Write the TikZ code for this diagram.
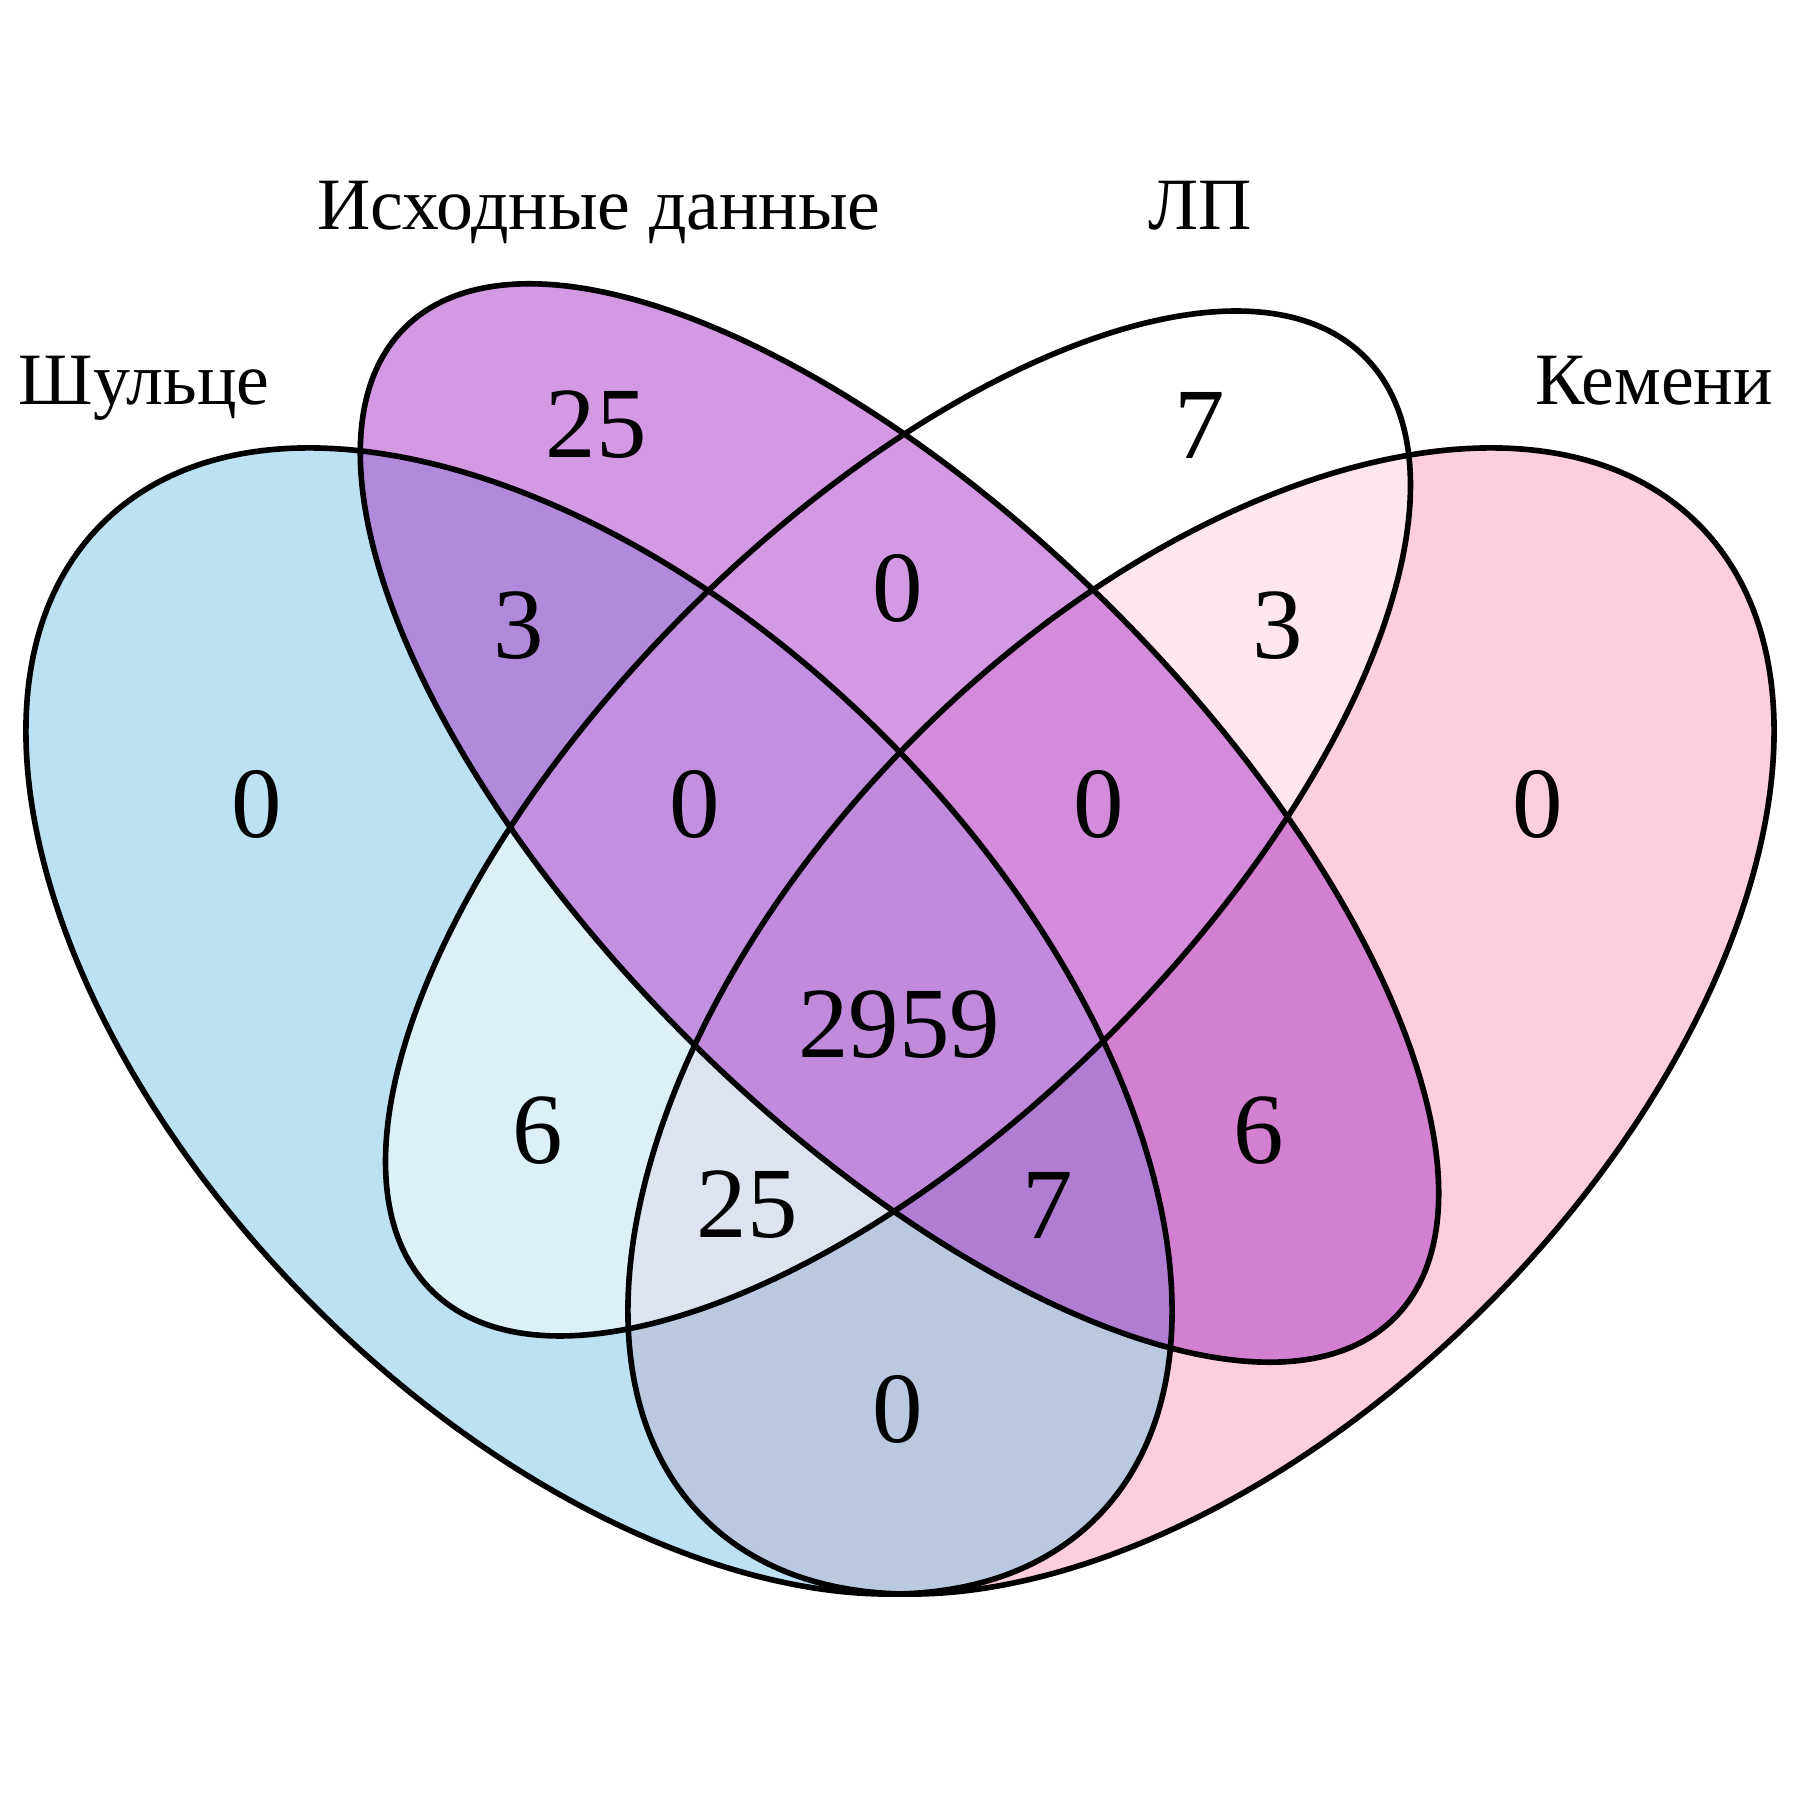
\documentclass[tikz,border=0pt]{standalone}
\usepackage{fontspec}
\setmainfont{Liberation Serif}
\definecolor{schulzeblue}{RGB}{121,195,229}
\definecolor{sourcepurple}{RGB}{169,51,199}
\definecolor{kemenypink}{RGB}{251,157,185}

\begin{document}
\begin{tikzpicture}[
		setlabel/.style={anchor=base, font=\fontsize{21}{25}\selectfont},
		count/.style={font=\fontsize{28.7}{34}\selectfont},
		outline/.style={black, line width=1.6pt}]
	\useasboundingbox (0,0) rectangle (18,18);

	\coordinate (schulze) at (5.99,7.79);
	\coordinate (kemeny) at (12.01,7.79);
	\coordinate (source) at (8.995,9.77);
	\coordinate (lp) at (8.98,9.765);

	% fills first, in this order
	\fill [kemenypink, opacity=0.5, rotate around={45:(kemeny)}] (kemeny) ellipse [x radius=7.03, y radius=4.03];
	\fill [schulzeblue, opacity=0.5, rotate around={-45:(schulze)}] (schulze) ellipse [x radius=7.03, y radius=4.03];
	\fill [white, opacity=0.5, rotate around={45:(lp)}] (lp) ellipse [x radius=6.60, y radius=2.99];
	\fill [sourcepurple, opacity=0.5, rotate around={-45:(source)}] (source) ellipse [x radius=7.00, y radius=3.02];

	% outlines on top
	\draw [outline, rotate around={45:(kemeny)}] (kemeny) ellipse [x radius=7.03, y radius=4.03];
	\draw [outline, rotate around={-45:(schulze)}] (schulze) ellipse [x radius=7.03, y radius=4.03];
	\draw [outline, rotate around={45:(lp)}] (lp) ellipse [x radius=6.60, y radius=2.99];
	\draw [outline, rotate around={-45:(source)}] (source) ellipse [x radius=7.00, y radius=3.02];

	\node [setlabel] (lblsource) at (5.99,15.70) {Исходные данные};
	\node [setlabel] (lbllp) at (12.00,15.70) {ЛП};
	\node [setlabel] (lblschulze) at (1.44,13.95) {Шульце};
	\node [setlabel] (lblkemeny) at (16.54,13.95) {Кемени};

	\node [count] (nsource) at (5.96,13.75) {25};
	\node [count] (nlp) at (12.00,13.75) {7};
	\node [count] (nschsrc) at (5.19,11.74) {3};
	\node [count] (nsrclp) at (8.98,12.12) {0};
	\node [count] (nlpkem) at (12.78,11.74) {3};
	\node [count] (nschulze) at (2.57,9.96) {0};
	\node [count] (nschsrclp) at (6.95,9.96) {0};
	\node [count] (nsrclpkem) at (10.99,9.96) {0};
	\node [count] (nkemeny) at (15.38,9.96) {0};
	\node [count] (nall) at (8.99,7.75) {2959};
	\node [count] (nschlp) at (5.38,6.69) {6};
	\node [count] (nsrckem) at (12.59,6.69) {6};
	\node [count] (nschlpkem) at (7.47,5.95) {25};
	\node [count] (nschsrckem) at (10.48,5.95) {7};
	\node [count] (nschkem) at (8.98,3.91) {0};
\end{tikzpicture}
\end{document}
